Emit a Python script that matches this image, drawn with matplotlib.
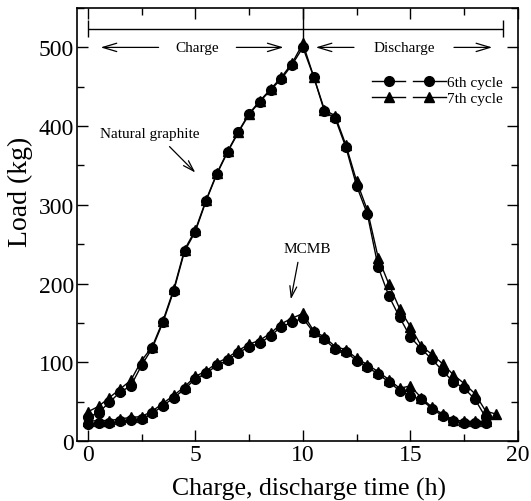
import matplotlib
matplotlib.use('Agg')
import matplotlib.pyplot as plt
from matplotlib.lines import Line2D
from matplotlib.legend_handler import HandlerTuple
from matplotlib.ticker import MultipleLocator

# temps de carrega i descarrega (h)
t_charge = [0, 0.5, 1, 1.5, 2, 2.5, 3, 3.5, 4, 4.5, 5, 5.5, 6, 6.5, 7, 7.5, 8, 8.5, 9, 9.5, 10]
t_dis6 = [10.5, 11, 11.5, 12, 12.5, 13, 13.5, 14, 14.5, 15, 15.5, 16, 16.5, 17, 17.5, 18, 18.5]
t_dis7 = [10.5, 11, 11.5, 12, 12.5, 13, 13.5, 14, 14.5, 15, 15.5, 16, 16.5, 17, 17.5, 18, 18.5, 19]

# Natural graphite
ng6_charge = [30, 36, 49, 62, 70, 96, 118, 151, 191, 241, 266, 305, 339, 367, 392, 415, 431, 446, 460, 478, 500]
ng7_charge = [37, 44, 55, 66, 77, 102, 120, 153, 193, 243, 268, 306, 340, 368, 393, 416, 432, 447, 462, 480, 505]
ng6_dis = [463, 419, 410, 373, 324, 288, 221, 184, 157, 132, 117, 104, 89, 75, 67, 53, 30]
ng7_dis = [463, 421, 413, 376, 330, 293, 233, 199, 168, 145, 121, 110, 98, 84, 73, 60, 38, 34]

# MCMB
mc6_charge = [22, 23, 23, 25, 27, 28, 35, 45, 55, 66, 79, 86, 96, 103, 112, 120, 124, 134, 145, 151, 156]
mc7_charge = [25, 26, 26, 28, 30, 31, 38, 48, 58, 69, 82, 89, 99, 106, 115, 123, 128, 137, 149, 156, 162]
mc6_dis = [138, 129, 117, 113, 102, 94, 85, 75, 64, 57, 53, 41, 32, 25, 23, 23, 23]
mc7_dis = [140, 132, 120, 116, 105, 97, 88, 78, 67, 70, 55, 43, 34, 27, 25, 25, 25]

plt.rcParams['font.family'] = ['Liberation Serif', 'DejaVu Serif']

fig = plt.figure(figsize=(5.31, 5.02), dpi=100)
ax = fig.add_axes([0.145, 0.1195, 0.8305, 0.8625])

kw6 = dict(color='black', marker='o', markersize=7, linewidth=1.0)
kw7 = dict(color='black', marker='^', markersize=7.5, linewidth=1.0)

ax.plot(t_charge + t_dis6, ng6_charge + ng6_dis, **kw6)
ax.plot(t_charge + t_dis7, ng7_charge + ng7_dis, **kw7)
ax.plot(t_charge + t_dis6, mc6_charge + mc6_dis, **kw6)
ax.plot(t_charge + t_dis6, mc7_charge + mc7_dis, **kw7)

ax.set_xlim(-0.5, 20)
ax.set_ylim(0, 550)
ax.xaxis.set_major_locator(MultipleLocator(5))
ax.xaxis.set_minor_locator(MultipleLocator(2.5))
ax.yaxis.set_major_locator(MultipleLocator(100))
ax.yaxis.set_minor_locator(MultipleLocator(50))
ax.tick_params(which='both', direction='in', top=True, right=True, width=1.0, labelsize=17, pad=2)
ax.tick_params(which='major', length=8)
ax.tick_params(which='minor', length=5)
for s in ax.spines.values():
    s.set_linewidth(1.2)

ax.set_xlabel('Charge, discharge time (h)', fontsize=18.5)
ax.set_ylabel('Load (kg)', fontsize=20)
ax.xaxis.set_label_coords(0.526, -0.083)
ax.yaxis.set_label_coords(-0.1, 0.577)

# barra superior carrega / descarrega
ax.hlines(523, 0, 19.3, color='black', linewidth=1.0)
ax.vlines([0, 19.3], 513, 535, color='black', linewidth=1.0)
ax.vlines(10, 505, 550, color='black', linewidth=1.0)

arr = dict(arrowstyle='->, head_length=1.0, head_width=0.3', color='black', linewidth=0.9)
for txt, xc, x0, x1 in [('Charge', 5.1, 0.6, 9.1), ('Discharge', 14.7, 10.6, 18.8)]:
    ax.text(xc, 500, txt, ha='center', va='center', fontsize=11)
    gap = 28 if txt == 'Charge' else 36
    ax.annotate('', xy=(x0, 500), xytext=(xc, 500),
                arrowprops=dict(arr, shrinkA=gap, shrinkB=0))
    ax.annotate('', xy=(x1, 500), xytext=(xc, 500),
                arrowprops=dict(arr, shrinkA=gap, shrinkB=0))

ptr = dict(arrowstyle='->, head_length=0.8, head_width=0.25', color='black',
           linewidth=0.9, shrinkA=0, shrinkB=0)
ax.text(2.9, 390, 'Natural graphite', fontsize=11, ha='center', va='center')
ax.annotate('', xy=(5.0, 341), xytext=(3.8, 374), arrowprops=ptr)
ax.text(10.2, 244, 'MCMB', fontsize=11, ha='center', va='center')
ax.annotate('', xy=(9.44, 180), xytext=(9.77, 227), arrowprops=ptr)

h6 = Line2D([], [], **kw6)
h7 = Line2D([], [], **kw7)
ax.legend([(h6, h6), (h7, h7)], ['6th cycle', '7th cycle'],
          handler_map={tuple: HandlerTuple(ndivide=None, pad=0.5)},
          loc='upper left', bbox_to_anchor=(0.67, 0.844), frameon=False, fontsize=11,
          handlelength=4.8, handletextpad=0.1, labelspacing=0.15, borderpad=0, borderaxespad=0)

fig.savefig('out.png', dpi=100)
